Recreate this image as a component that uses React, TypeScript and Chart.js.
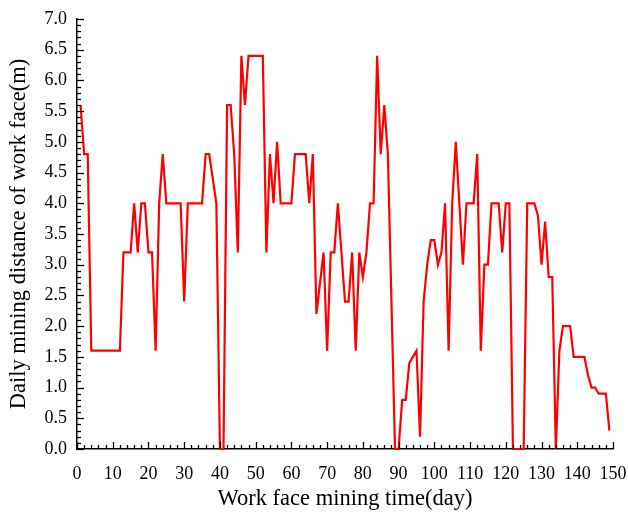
import React, { useEffect, useRef } from "react";
import { Chart, registerables } from "chart.js";

Chart.register(...registerables);

const days: number[] = [
  1, 2, 3, 4, 5, 6, 7, 8, 9, 10, 11, 12, 13, 14, 15, 16, 17, 18, 19, 20,
  21, 22, 23, 24, 25, 26, 27, 28, 29, 30, 31, 32, 33, 34, 35, 36, 37, 38, 39, 40,
  41, 42, 43, 44, 45, 46, 47, 48, 49, 50, 51, 52, 53, 54, 55, 56, 57, 58, 59, 60,
  61, 62, 63, 64, 65, 66, 67, 68, 69, 70, 71, 72, 73, 74, 75, 76, 77, 78, 79, 80,
  81, 82, 83, 84, 85, 86, 87, 88, 89, 90, 91, 92, 93, 94, 95, 96, 97, 98, 99, 100,
  101, 102, 103, 104, 105, 106, 107, 108, 109, 110, 111, 112, 113, 114, 115, 116, 117, 118, 119, 120,
  121, 122, 123, 124, 125, 126, 127, 128, 129, 130, 131, 132, 133, 134, 135, 136, 137, 138, 139, 140,
  141, 142, 143, 144, 145, 146, 147, 148, 149,
];

const distance: number[] = [
  5.6, 4.8, 4.8, 1.6, 1.6, 1.6, 1.6, 1.6, 1.6, 1.6, 1.6, 1.6, 3.2, 3.2, 3.2, 4.0, 3.2, 4.0, 4.0, 3.2,
  3.2, 1.6, 4.0, 4.8, 4.0, 4.0, 4.0, 4.0, 4.0, 2.4, 4.0, 4.0, 4.0, 4.0, 4.0, 4.8, 4.8, 4.4, 4.0, 0,
  0, 5.6, 5.6, 4.8, 3.2, 6.4, 5.6, 6.4, 6.4, 6.4, 6.4, 6.4, 3.2, 4.8, 4.0, 5.0, 4.0, 4.0, 4.0, 4.0,
  4.8, 4.8, 4.8, 4.8, 4.0, 4.8, 2.2, 2.7, 3.2, 1.6, 3.2, 3.2, 4.0, 3.2, 2.4, 2.4, 3.2, 1.6, 3.2, 2.8,
  3.2, 4.0, 4.0, 6.4, 4.8, 5.6, 4.8, 2.4, 0, 0, 0.8, 0.8, 1.4, 1.5, 1.6, 0.2, 2.4, 3.0, 3.4, 3.4,
  3.0, 3.2, 4.0, 1.6, 4.0, 5.0, 4.0, 3.0, 4.0, 4.0, 4.0, 4.8, 1.6, 3.0, 3.0, 4.0, 4.0, 4.0, 3.2, 4.0,
  4.0, 0, 0, 0, 0, 4.0, 4.0, 4.0, 3.8, 3.0, 3.7, 2.8, 2.8, 0, 1.6, 2.0, 2.0, 2.0, 1.5, 1.5,
  1.5, 1.5, 1.2, 1.0, 1.0, 0.9, 0.9, 0.9, 0.3,
];

const xTitle = "Work face mining time(day)";
const yTitle = "Daily mining distance of work face(m)";

const FONT = "'Liberation Serif', 'Times New Roman', serif";

const inwardTicks = {
  id: "inwardTicks",
  afterDraw(chart: any) {
    const { ctx, chartArea, scales } = chart;
    const x = scales.x;
    const y = scales.y;
    ctx.save();
    ctx.strokeStyle = "#000";
    ctx.lineWidth = 1.3;
    for (let v = 0; v <= 150; v += 2) {
      const px = Math.round(x.getPixelForValue(v)) + 0.5;
      const len = v % 10 === 0 ? 7 : 4;
      ctx.beginPath();
      ctx.moveTo(px, chartArea.bottom);
      ctx.lineTo(px, chartArea.bottom - len);
      ctx.stroke();
    }
    for (let t = 0; t <= 70; t += 1) {
      const py = Math.round(y.getPixelForValue(t / 10)) + 0.5;
      const len = t % 5 === 0 ? 7 : 4;
      ctx.beginPath();
      ctx.moveTo(chartArea.left, py);
      ctx.lineTo(chartArea.left + len, py);
      ctx.stroke();
    }
    ctx.restore();
  },
};

export default function App() {
  const ref = useRef<HTMLCanvasElement>(null);
  useEffect(() => {
    if (!ref.current) return;
    const chart = new Chart(ref.current, {
      type: "line",
      data: {
        datasets: [
          {
            data: days.map((d, i) => ({ x: d, y: distance[i] })),
            borderColor: "#ff0000",
            borderWidth: 2.2,
            pointRadius: 0,
            tension: 0,
            fill: false,
            clip: false as any,
          },
        ],
      },
      options: {
        animation: false,
        responsive: false,
        maintainAspectRatio: false,
        layout: { padding: { top: 19, right: 15, left: 0, bottom: 0 } },
        plugins: { legend: { display: false }, tooltip: { enabled: false } },
        scales: {
          x: {
            type: "linear",
            min: 0,
            max: 150,
            afterFit: (s: any) => {
              s.height = 65;
              s.paddingLeft = 0;
              s.paddingRight = 0;
            },
            grid: { display: false, drawTicks: false },
            border: { display: true, color: "#000", width: 1.5 },
            ticks: {
              stepSize: 10,
              color: "#000",
              padding: 14,
              maxRotation: 0,
              font: { family: FONT, size: 18 },
            },
            title: {
              display: true,
              text: xTitle,
              color: "#000",
              font: { family: FONT, size: 22.5 },
              padding: { top: 0, bottom: 1 },
            },
          },
          y: {
            min: 0,
            max: 7,
            afterFit: (s: any) => {
              s.width = 77;
              s.paddingTop = 0;
              s.paddingBottom = 0;
            },
            grid: { display: false, drawTicks: false },
            border: { display: true, color: "#000", width: 1.5 },
            ticks: {
              stepSize: 0.5,
              color: "#000",
              padding: 10,
              font: { family: FONT, size: 18 },
              callback: (v: any) => Number(v).toFixed(1),
            },
            title: {
              display: true,
              text: yTitle,
              color: "#000",
              font: { family: FONT, size: 22.5 },
              padding: { top: 6, bottom: 0 },
            },
          },
        },
      },
      plugins: [inwardTicks],
    });
    return () => chart.destroy();
  }, []);
  return (
    <div style={{ position: "absolute", left: 0, top: 0, width: 628, height: 514, background: "#fff" }}>
      <canvas ref={ref} width={628} height={514} style={{ width: 628, height: 514 }} />
    </div>
  );
}
